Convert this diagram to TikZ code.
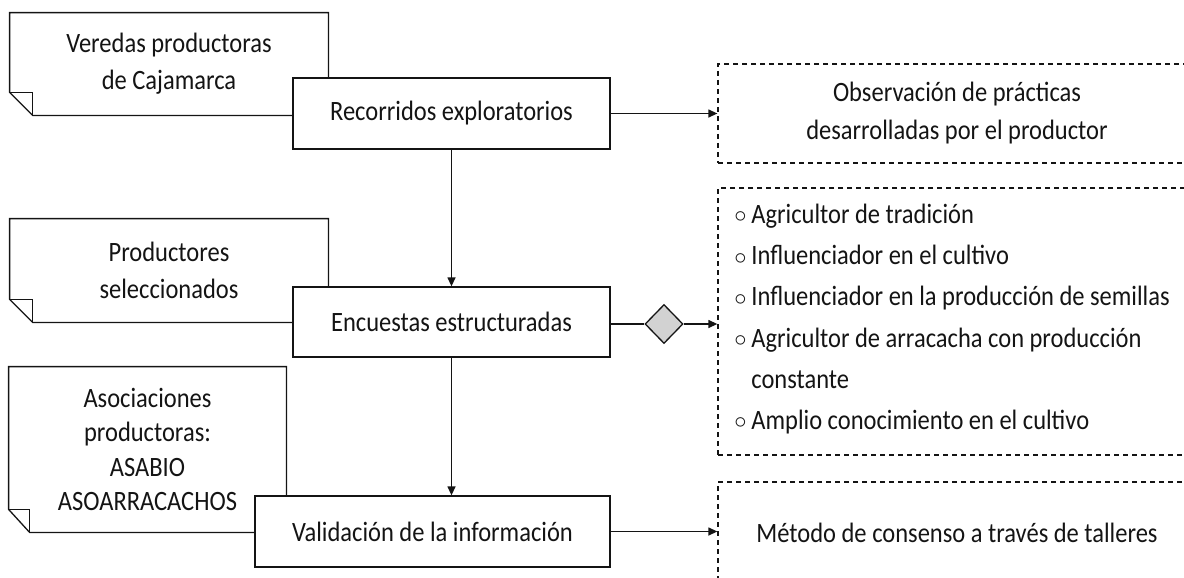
\documentclass[tikz,border=0pt]{standalone}
\usepackage{fontspec}
\newfontfamily\diagfont{Carlito}[FakeStretch=0.875]
\usepackage{xcolor}
\usetikzlibrary{arrows.meta,calc,positioning,shapes.geometric}
\definecolor{ink}{RGB}{20,20,20}
\definecolor{gatefill}{RGB}{210,210,210}
\newcommand{\itm}{\makebox[8.5pt][l]{\raisebox{0.3pt}{\scalebox{0.85}{$\circ$}}}}
\tikzset{
  src/.style={
    draw=none, fill=white, inner sep=0pt,
    minimum width=159pt, minimum height=51pt,
    align=center, font=\diagfont\fontsize{14}{18.5}\selectfont, text=ink,
  },
  noteline/.style={draw=ink, line width=0.65pt, line join=miter},
  step box/.style={
    draw=ink, fill=white, line width=0.65pt, inner sep=0pt,
    minimum width=158.5pt, minimum height=35.5pt,
    align=center, font=\diagfont\fontsize{14}{18.5}\selectfont, text=ink,
  },
  result/.style={
    draw=ink, dash pattern=on 2.5pt off 2pt, line width=0.65pt, inner sep=0pt,
    minimum width=239pt, minimum height=50pt,
    align=center, font=\diagfont\fontsize{14}{19}\selectfont, text=ink,
  },
  listtxt/.style={
    inner sep=0pt, align=left, text=ink,
    font=\diagfont\fontsize{14}{20.6}\selectfont,
  },
  gate/.style={
    diamond, draw=ink, fill=gatefill, line width=0.65pt, inner sep=0pt,
    minimum width=19pt, minimum height=19.5pt,
  },
  arr/.style={-{Triangle[length=4.5pt,width=4pt]}, line width=0.65pt, draw=ink},
  link/.style={line width=0.65pt, draw=ink},
}

\begin{document}
\begin{tikzpicture}[x=0.5pt,y=-0.5pt]
  \useasboundingbox (0,0) rectangle (1184,578);
  \clip (0,0) rectangle (1184,578);

  % Source notes (folded corner)
  \node[src] (vered) at (169,64) {Veredas productoras\\de Cajamarca};
  \node[src, minimum height=51.5pt] (prodsel) at (169,270.5) {Productores\\seleccionados};
  \node[src, minimum width=138.5pt, minimum height=82.5pt,
        font=\diagfont\fontsize{14}{17.3}\selectfont] (asoc) at (147.5,449.5)
        {Asociaciones\\productoras:\\ASABIO\\ASOARRACACHOS};

  \draw[noteline] (vered.north west) -- (vered.north east) -- (vered.south east)
    -- ([xshift=11.5pt]vered.south west) -- ([yshift=11.5pt]vered.south west) -- cycle;
  \draw[noteline] ([yshift=11.5pt]vered.south west) -- ([xshift=11.5pt,yshift=11.5pt]vered.south west)
    -- ([xshift=11.5pt]vered.south west);
  \draw[noteline] (prodsel.north west) -- (prodsel.north east) -- (prodsel.south east)
    -- ([xshift=11.5pt]prodsel.south west) -- ([yshift=11.5pt]prodsel.south west) -- cycle;
  \draw[noteline] ([yshift=11.5pt]prodsel.south west) -- ([xshift=11.5pt,yshift=11.5pt]prodsel.south west)
    -- ([xshift=11.5pt]prodsel.south west);
  \draw[noteline] (asoc.north west) -- (asoc.north east) -- (asoc.south east)
    -- ([xshift=10.5pt]asoc.south west) -- ([yshift=11.5pt]asoc.south west) -- cycle;
  \draw[noteline] ([yshift=11.5pt]asoc.south west) -- ([xshift=10.5pt,yshift=11.5pt]asoc.south west)
    -- ([xshift=10.5pt]asoc.south west);

  % Process steps
  \node[step box] (recor) at (451.5,113.5) {Recorridos exploratorios};
  \node[step box, minimum height=35pt] (encue) at (451.5,322) {Encuestas estructuradas};
  \node[step box, minimum width=177.5pt] (valid) at (432.5,531.5) {Validación de la información};

  \node[gate] (filtro) at (664,324) {};

  % Results (dashed, cut by the right edge)
  \node[result, minimum height=49.5pt] (obs) at (957,113.5)
    {Observación de prácticas\\desarrolladas por el productor};
  \node[result, minimum height=133.5pt] (perfil) at (957,321.5) {};
  \node[listtxt, anchor=west] (lista) at (734,319)
    {\itm Agricultor de tradición\\
     \itm Influenciador en el cultivo\\
     \itm Influenciador en la producción de semillas\\
     \itm Agricultor de arracacha con producción\\
     \hspace*{8.5pt}constante\\
     \itm Amplio conocimiento en el cultivo};
  \node[result, minimum height=51pt] (consen) at (957,533)
    {Método de consenso a través de talleres};

  % Connectors
  \draw[arr] (recor.east) -- (recor.east -| obs.west);
  \draw[arr] (recor) -- (encue);
  \draw[arr] (encue.south) -- (encue.south |- valid.north);
  \draw[link] (encue.east |- filtro) -- (filtro.west);
  \draw[arr] (filtro.east) -- (filtro.east -| perfil.west);
  \draw[arr] (valid.east) -- (valid.east -| consen.west);
\end{tikzpicture}
\end{document}
